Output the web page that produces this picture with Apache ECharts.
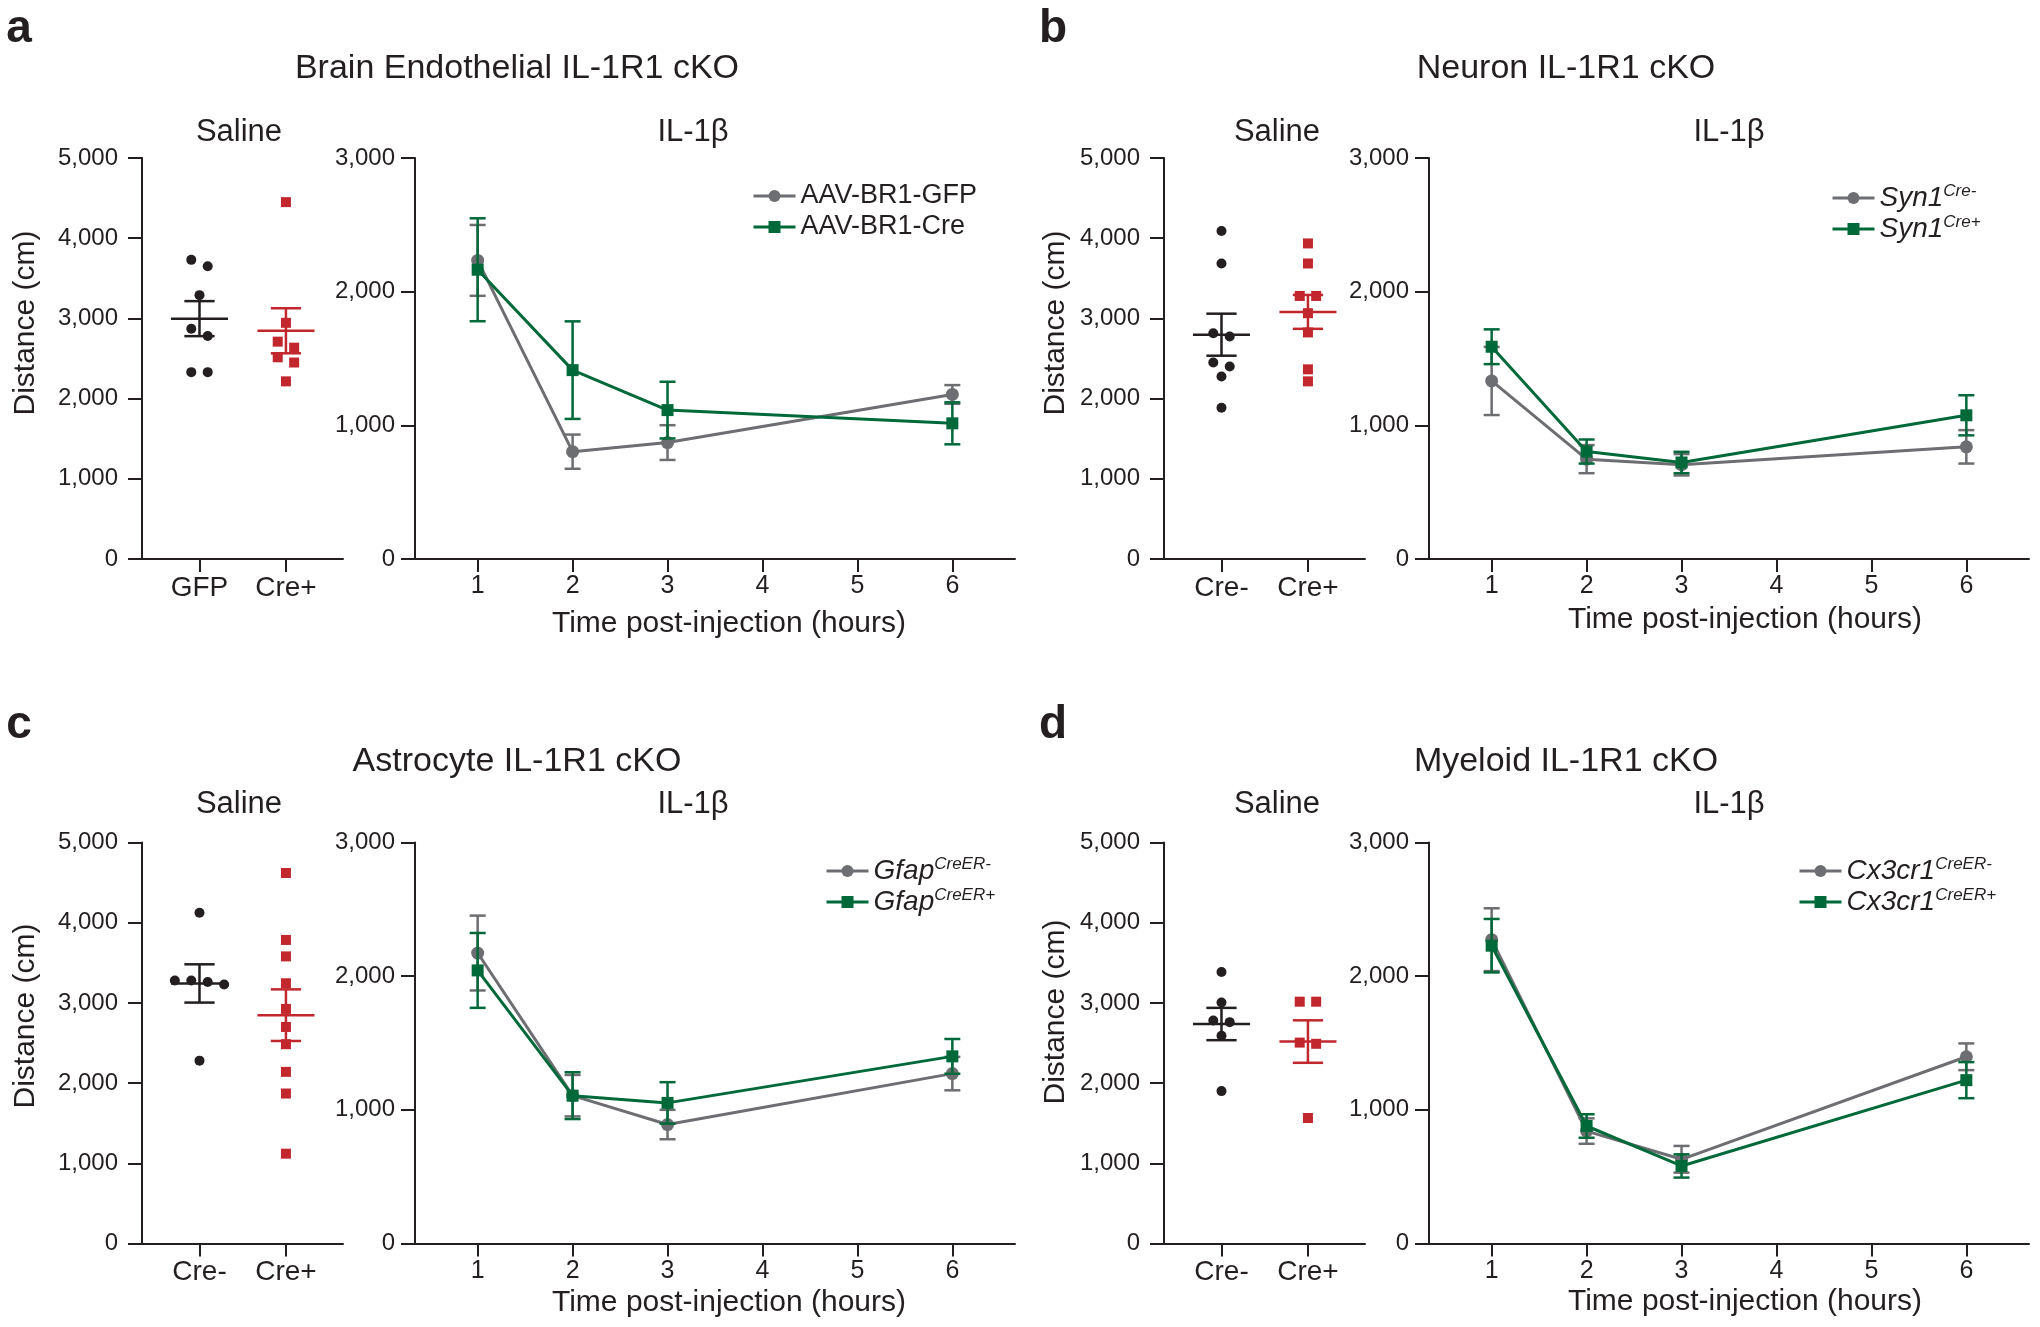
<!DOCTYPE html>
<html>
<head>
<meta charset="utf-8">
<script src="https://cdn.jsdelivr.net/npm/echarts@6/dist/echarts.min.js"></script>
<style>
  html, body { margin: 0; background: #fff; }
  #chart { width: 2040px; height: 1327px; }
</style>
</head>
<body>
<div id="chart"></div>
<script>
// ---- data ----
const hours = [1, 2, 3, 6];
const hourTicks = [1, 2, 3, 4, 5, 6];

// a: brain endothelial
const aSalineLabels = ['GFP', 'Cre+'];
const aSalineCtrl = [3730, 3650, 3290, 2870, 2780, 2330, 2330];
const aSalineCre = [4450, 2945, 2710, 2635, 2515, 2450, 2215];
const aCtrlMean = [2234, 803, 871, 1231];
const aCtrlSem = [265, 128, 130, 70];
const aCreMean = [2164, 1413, 1114, 1015];
const aCreSem = [385, 365, 212, 157];

// b: neuron
const bSalineLabels = ['Cre-', 'Cre+'];
const bSalineCtrl = [4090, 3685, 2815, 2775, 2450, 2400, 2275, 1885];
const bSalineCre = [3935, 3685, 3280, 3280, 3065, 2825, 2365, 2215];
const bCtrlMean = [1332, 747, 705, 839];
const bCtrlSem = [255, 105, 80, 125];
const bCreMean = [1588, 804, 722, 1075];
const bCreSem = [130, 90, 80, 150];

// c: astrocyte
const cSalineLabels = ['Cre-', 'Cre+'];
const cSalineCtrl = [4125, 3280, 3280, 3260, 3230, 2280];
const cSalineCre = [4620, 3785, 3580, 3245, 2925, 2700, 2485, 2140, 1870, 1120];
const cCtrlMean = [2173, 1106, 890, 1271];
const cCtrlSem = [280, 155, 110, 125];
const cCreMean = [2043, 1106, 1052, 1400];
const cCreSem = [280, 175, 155, 130];

// d: myeloid
const dSalineLabels = ['Cre-', 'Cre+'];
const dSalineCtrl = [3385, 3005, 2780, 2760, 2590, 1900];
const dSalineCre = [3015, 3015, 2505, 2490, 1565];
const dCtrlMean = [2273, 841, 630, 1397];
const dCtrlSem = [235, 95, 100, 100];
const dCreMean = [2228, 879, 580, 1222];
const dCreSem = [200, 88, 87, 135];

// ---- styles ----
const FONT = '"Liberation Sans", Arial, Helvetica, sans-serif';
const INK = '#231f20';
const GRAY = '#6d6e71';
const GREEN = '#00693a';
const RED = '#c1272d';

const panels = [
  {
    letter: 'a', title: 'Brain Endothelial IL-1R1 cKO',
    sLeft: 142, iLeft: 415, top: 158, subY: 132, titleY: 69, letterY: 29, yNameY: 323, xNameY: 624,
    sLabels: aSalineLabels, ctrl: aSalineCtrl, cre: aSalineCre,
    lines: [
      { name: 'AAV-BR1-GFP', main: 'AAV-BR1-GFP', sup: '', mean: aCtrlMean, sem: aCtrlSem },
      { name: 'AAV-BR1-Cre', main: 'AAV-BR1-Cre', sup: '', mean: aCreMean, sem: aCreSem }
    ],
    legendLeft: 747, legendTop: 175.5, italic: false
  },
  {
    letter: 'b', title: 'Neuron IL-1R1 cKO',
    sLeft: 1164, iLeft: 1429, top: 158, subY: 132, titleY: 69, letterY: 29, yNameY: 323, xNameY: 620,
    sLabels: bSalineLabels, ctrl: bSalineCtrl, cre: bSalineCre,
    lines: [
      { name: 'Syn1Cre-', main: 'Syn1', sup: 'Cre-', mean: bCtrlMean, sem: bCtrlSem },
      { name: 'Syn1Cre+', main: 'Syn1', sup: 'Cre+', mean: bCreMean, sem: bCreSem }
    ],
    legendLeft: 1826, legendTop: 177.5, italic: true
  },
  {
    letter: 'c', title: 'Astrocyte IL-1R1 cKO',
    sLeft: 142, iLeft: 415, top: 842.5, subY: 804, titleY: 762, letterY: 725, yNameY: 1016, xNameY: 1303,
    sLabels: cSalineLabels, ctrl: cSalineCtrl, cre: cSalineCre,
    lines: [
      { name: 'GfapCreER-', main: 'Gfap', sup: 'CreER-', mean: cCtrlMean, sem: cCtrlSem },
      { name: 'GfapCreER+', main: 'Gfap', sup: 'CreER+', mean: cCreMean, sem: cCreSem }
    ],
    legendLeft: 820, legendTop: 850.5, italic: true
  },
  {
    letter: 'd', title: 'Myeloid IL-1R1 cKO',
    sLeft: 1164, iLeft: 1429, top: 842.5, subY: 804, titleY: 762, letterY: 725, yNameY: 1012, xNameY: 1302,
    sLabels: dSalineLabels, ctrl: dSalineCtrl, cre: dSalineCre,
    lines: [
      { name: 'Cx3cr1CreER-', main: 'Cx3cr1', sup: 'CreER-', mean: dCtrlMean, sem: dCtrlSem },
      { name: 'Cx3cr1CreER+', main: 'Cx3cr1', sup: 'CreER+', mean: dCreMean, sem: dCreSem }
    ],
    legendLeft: 1793, legendTop: 850.5, italic: true
  }
];

const S_WIDTH = 201;
const I_WIDTH = 600;
const P_HEIGHT = 401;

// spread overlapping points sideways, like the column scatter in the figure
function spread(values, center) {
  const sorted = values.slice().sort((p, q) => q - p);
  const groups = [];
  sorted.forEach((v) => {
    const g = groups[groups.length - 1];
    if (g && g[g.length - 1] - v < 100) g.push(v);
    else groups.push([v]);
  });
  const out = [];
  groups.forEach((g) => {
    g.forEach((v, i) => out.push([center + (i - (g.length - 1) / 2) * 0.19, v]));
  });
  return out;
}

function meanSem(vals) {
  const n = vals.length;
  const m = vals.reduce((s, v) => s + v, 0) / n;
  const sd = Math.sqrt(vals.reduce((s, v) => s + (v - m) * (v - m), 0) / (n - 1));
  return [m, sd / Math.sqrt(n)];
}

function commas(v) {
  return String(v).replace(/\B(?=(\d{3})+(?!\d))/g, ',');
}

function statRender(params, api) {
  const x = api.value(0);
  const m = api.value(1);
  const s = api.value(2);
  const style = { stroke: api.visual('color'), lineWidth: 2.5 };
  const l = api.coord([x - 0.33, m]);
  const r = api.coord([x + 0.33, m]);
  const t1 = api.coord([x - 0.175, m + s]);
  const t2 = api.coord([x + 0.175, m + s]);
  const b1 = api.coord([x - 0.175, m - s]);
  const b2 = api.coord([x + 0.175, m - s]);
  const t = api.coord([x, m + s]);
  const b = api.coord([x, m - s]);
  return {
    type: 'group',
    children: [
      { type: 'line', shape: { x1: l[0], y1: l[1], x2: r[0], y2: r[1] }, style },
      { type: 'line', shape: { x1: t[0], y1: t[1], x2: b[0], y2: b[1] }, style },
      { type: 'line', shape: { x1: t1[0], y1: t1[1], x2: t2[0], y2: t2[1] }, style },
      { type: 'line', shape: { x1: b1[0], y1: b1[1], x2: b2[0], y2: b2[1] }, style }
    ]
  };
}

function errRender(params, api) {
  const x = api.value(0);
  const m = api.value(1);
  const s = api.value(2);
  const style = { stroke: api.visual('color'), lineWidth: 2.5 };
  const t = api.coord([x, m + s]);
  const b = api.coord([x, m - s]);
  return {
    type: 'group',
    children: [
      { type: 'line', shape: { x1: t[0], y1: t[1], x2: b[0], y2: b[1] }, style },
      { type: 'line', shape: { x1: t[0] - 8, y1: t[1], x2: t[0] + 8, y2: t[1] }, style },
      { type: 'line', shape: { x1: b[0] - 8, y1: b[1], x2: b[0] + 8, y2: b[1] }, style }
    ]
  };
}

const axisLine = { show: true, onZero: false, lineStyle: { color: INK, width: 2 } };

const grid = [];
const xAxis = [];
const yAxis = [];
const series = [];
const legend = [];
const graphic = [];

function text(str, x, y, size, extra) {
  graphic.push({
    type: 'text', x, y, silent: true,
    style: Object.assign({
      text: str, fill: INK, fontFamily: FONT, fontSize: size,
      align: 'center', verticalAlign: 'middle'
    }, extra || {})
  });
}

panels.forEach((p) => {
  const sIdx = grid.length;
  const iIdx = sIdx + 1;
  grid.push({ left: p.sLeft, top: p.top, width: S_WIDTH, height: P_HEIGHT });
  grid.push({ left: p.iLeft, top: p.top, width: I_WIDTH, height: P_HEIGHT });

  // saline axes
  xAxis.push({
    type: 'value', gridIndex: sIdx, min: 0.335, max: 2.66,
    axisLine,
    axisTick: { show: true, customValues: [1, 2], length: 13, lineStyle: { color: INK, width: 2 } },
    axisLabel: {
      customValues: [1, 2], formatter: (v) => p.sLabels[Math.round(v) - 1],
      fontSize: 28, fontFamily: FONT, color: INK, margin: 15
    },
    splitLine: { show: false }
  });
  yAxis.push({
    type: 'value', gridIndex: sIdx, min: 0, max: 5000, interval: 1000,
    axisLine,
    axisTick: { show: true, length: 14, lineStyle: { color: INK, width: 2 } },
    axisLabel: { formatter: commas, fontSize: 24, fontFamily: FONT, color: INK, margin: 24 },
    splitLine: { show: false }
  });

  // IL-1b axes
  xAxis.push({
    type: 'value', gridIndex: iIdx, min: 0.34, max: 6.66,
    axisLine,
    axisTick: { show: true, customValues: hourTicks, length: 13, lineStyle: { color: INK, width: 2 } },
    axisLabel: {
      customValues: hourTicks, fontSize: 25, fontFamily: FONT, color: INK, margin: 15
    },
    splitLine: { show: false }
  });
  yAxis.push({
    type: 'value', gridIndex: iIdx, min: 0, max: 3000, interval: 1000,
    axisLine,
    axisTick: { show: true, length: 14, lineStyle: { color: INK, width: 2 } },
    axisLabel: { formatter: commas, fontSize: 24, fontFamily: FONT, color: INK, margin: 20 },
    splitLine: { show: false }
  });

  // saline scatter
  series.push({
    type: 'scatter', xAxisIndex: sIdx, yAxisIndex: sIdx,
    data: spread(p.ctrl, 1), symbol: 'circle', symbolSize: 10,
    itemStyle: { color: INK, opacity: 1 }, z: 2, silent: true
  });
  series.push({
    type: 'scatter', xAxisIndex: sIdx, yAxisIndex: sIdx,
    data: spread(p.cre, 2), symbol: 'rect', symbolSize: 10,
    itemStyle: { color: RED, opacity: 1 }, z: 2, silent: true
  });
  const sc = meanSem(p.ctrl);
  const sr = meanSem(p.cre);
  series.push({
    type: 'custom', xAxisIndex: sIdx, yAxisIndex: sIdx,
    renderItem: statRender, encode: { x: 0, y: 1 }, z: 3, silent: true,
    data: [
      { value: [1, sc[0], sc[1]], itemStyle: { color: INK } },
      { value: [2, sr[0], sr[1]], itemStyle: { color: RED } }
    ]
  });

  // IL-1b time course
  p.lines.forEach((ln, k) => {
    const color = k === 0 ? GRAY : GREEN;
    series.push({
      type: 'custom', xAxisIndex: iIdx, yAxisIndex: iIdx,
      renderItem: errRender, encode: { x: 0, y: 1 }, z: 2 + k * 2, silent: true,
      itemStyle: { color },
      data: hours.map((h, i) => [h, ln.mean[i], ln.sem[i]])
    });
    series.push({
      type: 'line', name: ln.name, xAxisIndex: iIdx, yAxisIndex: iIdx,
      data: hours.map((h, i) => [h, ln.mean[i]]),
      symbol: k === 0 ? 'circle' : 'rect', symbolSize: k === 0 ? 13 : 12,
      lineStyle: { color, width: 3 }, itemStyle: { color, borderWidth: 0 },
      z: 3 + k * 2, silent: true
    });
  });

  const lookup = {};
  p.lines.forEach((ln) => { lookup[ln.name] = ln; });
  legend.push({
    data: p.lines.map((ln) => ln.name),
    orient: 'vertical', left: p.legendLeft, top: p.legendTop,
    itemWidth: 42, itemHeight: 15, itemGap: 0, selectedMode: false,
    lineStyle: { width: 3 },
    textStyle: {
      fontSize: 27, lineHeight: 31, fontFamily: FONT, color: INK,
      rich: {
        i: { fontSize: 28, lineHeight: 31, fontFamily: FONT, fontStyle: 'italic', color: INK },
        s: { fontSize: 17, lineHeight: 20, fontFamily: FONT, fontStyle: 'italic', color: INK, verticalAlign: 'top' }
      }
    },
    formatter: (name) => {
      const ln = lookup[name];
      return p.italic ? `{i|${ln.main}}{s|${ln.sup}}` : ln.main;
    }
  });

  // text
  const sCenter = p.sLeft < 1000 ? 239 : 1277;
  const iCenter = p.sLeft < 1000 ? 693 : 1729;
  const titleX = p.sLeft < 1000 ? 517 : 1566;
  text(p.letter, p.sLeft < 1000 ? 19 : 1053, p.letterY, 46, { fontWeight: 'bold' });
  text(p.title, titleX, p.titleY, 34);
  text('Saline', sCenter, p.subY, 31);
  text('IL-1\u03b2', iCenter, p.subY, 31);
  graphic.push({
    type: 'text', x: p.sLeft < 1000 ? 26 : 1056, y: p.yNameY, rotation: Math.PI / 2, silent: true,
    style: {
      text: 'Distance (cm)', fill: INK, fontFamily: FONT, fontSize: 30,
      align: 'center', verticalAlign: 'middle'
    }
  });
  text('Time post-injection (hours)', p.sLeft < 1000 ? 729 : 1745, p.xNameY, 30);
});

const chart = echarts.init(document.getElementById('chart'));
chart.setOption({
  backgroundColor: '#fff',
  animation: false,
  grid, xAxis, yAxis, series, legend, graphic
});
</script>
</body>
</html>
